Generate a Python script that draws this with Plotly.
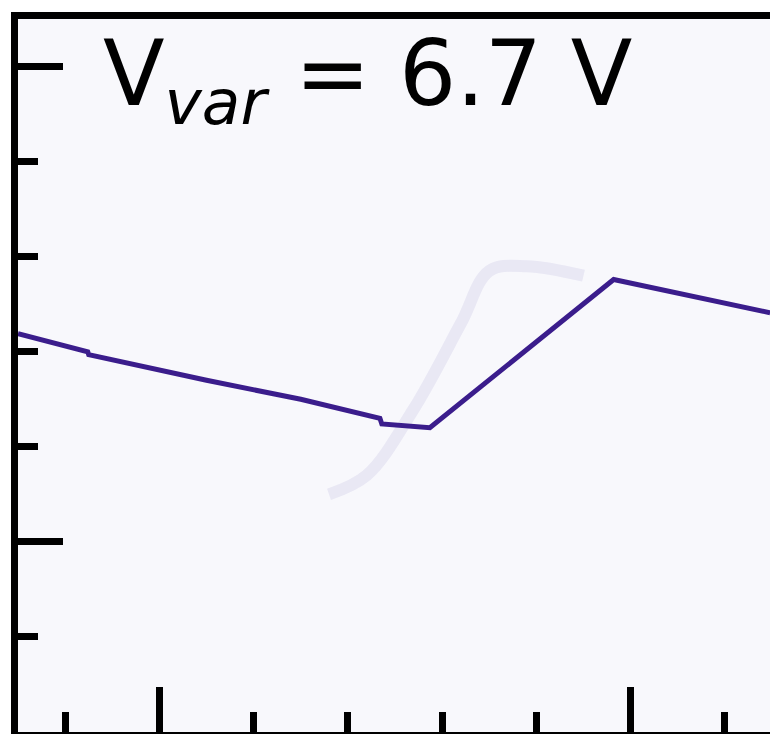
import plotly.graph_objects as go

# trace, in divisions
trace_x = [0.0, 0.74, 0.75, 2.0, 3.0, 3.84, 3.86, 4.37, 6.32, 7.98]
trace_y = [4.19, 4.0, 3.97, 3.7, 3.5, 3.3, 3.24, 3.2, 4.76, 4.41]
ghost_x = [3.3, 3.7, 4.2, 4.7, 5.0, 5.4, 6.0]
ghost_y = [2.5, 2.7, 3.4, 4.3, 4.85, 4.9, 4.8]
label = "V<sub><i>var</i></sub> = 6.7 V"

fig = go.Figure()
fig.add_trace(go.Scatter(x=ghost_x, y=ghost_y, mode="lines", line_shape="spline",
                         line=dict(color="rgba(150,140,200,0.15)", width=12)))
fig.add_trace(go.Scatter(x=trace_x, y=trace_y, mode="lines",
                         line=dict(color="#3b1d8c", width=5)))

fig.add_annotation(x=0.11, y=1.0, xref="paper", yref="paper", text=label,
                   showarrow=False, xanchor="left", yanchor="top",
                   font=dict(family="DejaVu Sans", size=90, color="black"))

axis = dict(showline=True, linewidth=7, linecolor="black", mirror=True,
            showgrid=False, zeroline=False, showticklabels=False,
            ticks="inside", ticklen=45, tickwidth=7, tickcolor="black",
            minor=dict(ticks="inside", ticklen=20, tickwidth=7, tickcolor="black",
                       dtick=1, showgrid=False))
fig.update_xaxes(**axis, range=[0, 8], tickvals=[1.5, 6.5])
fig.update_xaxes(minor_tick0=0.5)
fig.update_yaxes(**axis, range=[0, 7.5], tickvals=[2, 7])
fig.update_yaxes(minor_tick0=0)

fig.update_layout(width=778, height=734, showlegend=False,
                  margin=dict(l=10, r=14, t=4, b=10),
                  plot_bgcolor="#f8f8fc", paper_bgcolor="white")
fig.write_html("out.html")
